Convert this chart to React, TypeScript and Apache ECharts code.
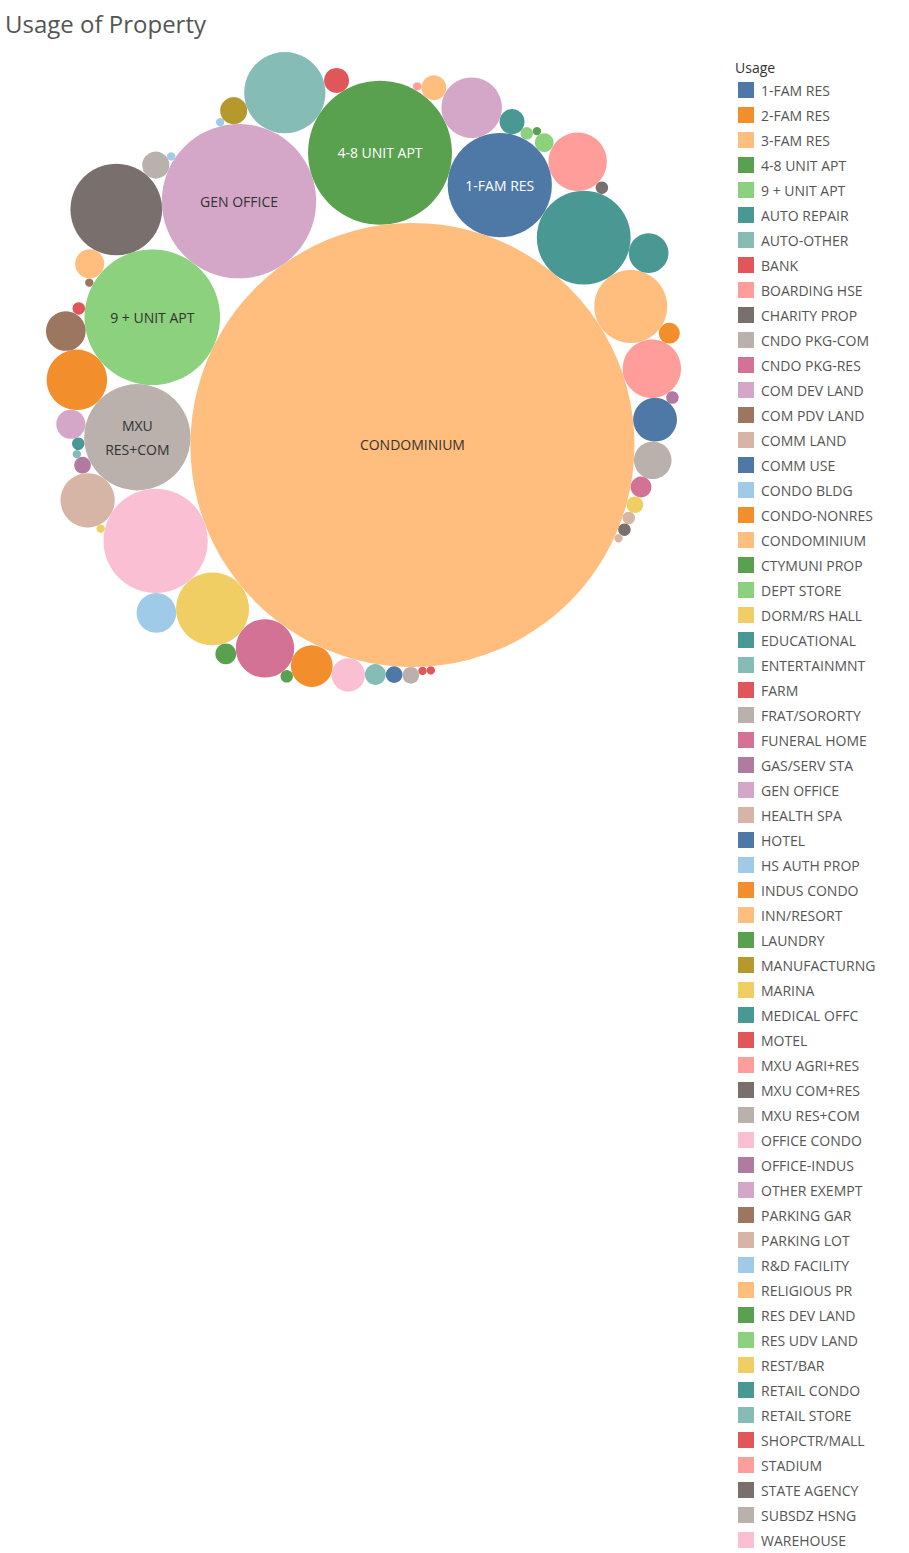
import { useEffect, useRef } from "react";
import * as echarts from "echarts";

// category, approximate value (count), colour
const categories = [
  "1-FAM RES", "2-FAM RES", "3-FAM RES", "4-8 UNIT APT", "9 + UNIT APT", "AUTO REPAIR", "AUTO-OTHER",
  "BANK", "BOARDING HSE", "CHARITY PROP", "CNDO PKG-COM", "CNDO PKG-RES", "COM DEV LAND", "COM PDV LAND",
  "COMM LAND", "COMM USE", "CONDO BLDG", "CONDO-NONRES", "CONDOMINIUM", "CTYMUNI PROP", "DEPT STORE",
  "DORM/RS HALL", "EDUCATIONAL", "ENTERTAINMNT", "FARM", "FRAT/SORORTY", "FUNERAL HOME", "GAS/SERV STA",
  "GEN OFFICE", "HEALTH SPA", "HOTEL", "HS AUTH PROP", "INDUS CONDO", "INN/RESORT", "LAUNDRY",
  "MANUFACTURNG", "MARINA", "MEDICAL OFFC", "MOTEL", "MXU AGRI+RES", "MXU COM+RES", "MXU RES+COM",
  "OFFICE CONDO", "OFFICE-INDUS", "OTHER EXEMPT", "PARKING GAR", "PARKING LOT", "R&D FACILITY",
  "RELIGIOUS PR", "RES DEV LAND", "RES UDV LAND", "REST/BAR", "RETAIL CONDO", "RETAIL STORE",
  "SHOPCTR/MALL", "STADIUM", "STATE AGENCY", "SUBSDZ HSNG", "WAREHOUSE",
];
const values = [
  2500, 841, 1225, 4761, 4225, 361, 100,
  16, 784, 36, 324, 784, 196, 16,
  36, 441, 361, 400, 45369, 16, 36,
  16, 36, 16, 16, 169, 100, 64,
  5476, 16, 64, 16, 100, 196, 100,
  169, 64, 144, 144, 16, 1936, 2601,
  2500, 36, 841, 361, 676, 16,
  144, 36, 81, 1225, 2025, 1521,
  36, 784, 36, 64, 256,
];
const colors = [
  "#4e79a7", "#f28e2b", "#ffbe7d", "#59a14f", "#8cd17d", "#499894", "#86bcb6",
  "#e15759", "#ff9d9a", "#79706e", "#bab0ac", "#d37295", "#d4a6c8", "#9d7660",
  "#d7b5a6", "#4e79a7", "#a0cbe8", "#f28e2b", "#ffbe7d", "#59a14f", "#8cd17d",
  "#f1ce63", "#499894", "#86bcb6", "#e15759", "#bab0ac", "#d37295", "#b07aa1",
  "#d4a6c8", "#d7b5a6", "#4e79a7", "#a0cbe8", "#f28e2b", "#ffbe7d", "#59a14f",
  "#b6992d", "#f1ce63", "#499894", "#e15759", "#ff9d9a", "#79706e", "#bab0ac",
  "#fabfd2", "#b07aa1", "#d4a6c8", "#9d7660", "#d7b5a6", "#a0cbe8",
  "#ffbe7d", "#59a14f", "#8cd17d", "#f1ce63", "#499894", "#86bcb6",
  "#e15759", "#ff9d9a", "#79706e", "#bab0ac", "#fabfd2",
];
const labels: Record<string, { text: string; fill: string }> = {
  "CONDOMINIUM": { text: "CONDOMINIUM", fill: "#333" },
  "GEN OFFICE": { text: "GEN OFFICE", fill: "#333" },
  "4-8 UNIT APT": { text: "4-8 UNIT APT", fill: "#fff" },
  "9 + UNIT APT": { text: "9 + UNIT APT", fill: "#333" },
  "MXU RES+COM": { text: "MXU\nRES+COM", fill: "#333" },
  "1-FAM RES": { text: "1-FAM RES", fill: "#fff" },
};

type C = { i: number; r: number; x: number; y: number };
type N = { _: C; next: N; previous: N };

function place(b: C, a: C, c: C) {
  const dx = b.x - a.x, dy = b.y - a.y, d2 = dx * dx + dy * dy;
  if (d2) {
    const a2 = (a.r + c.r) ** 2, b2 = (b.r + c.r) ** 2;
    if (a2 > b2) {
      const x = (d2 + b2 - a2) / (2 * d2), y = Math.sqrt(Math.max(0, b2 / d2 - x * x));
      c.x = b.x - x * dx - y * dy; c.y = b.y - x * dy + y * dx;
    } else {
      const x = (d2 + a2 - b2) / (2 * d2), y = Math.sqrt(Math.max(0, a2 / d2 - x * x));
      c.x = a.x + x * dx - y * dy; c.y = a.y + x * dy + y * dx;
    }
  } else { c.x = a.x + c.r; c.y = a.y; }
}
function intersects(a: C, b: C) {
  const dr = a.r + b.r - 1e-6, dx = b.x - a.x, dy = b.y - a.y;
  return dr > 0 && dr * dr > dx * dx + dy * dy;
}
function score(node: N) {
  const a = node._, b = node.next._, ab = a.r + b.r;
  const dx = (a.x * b.r + b.x * a.r) / ab, dy = (a.y * b.r + b.y * a.r) / ab;
  return dx * dx + dy * dy;
}
function mk(c: C): N { return { _: c } as N; }
function packSiblings(circles: C[]) {
  const n = circles.length;
  if (!n) return;
  let a0 = circles[0]; a0.x = 0; a0.y = 0; if (n === 1) return;
  const b0 = circles[1]; a0.x = -b0.r; b0.x = a0.r; b0.y = 0; if (n === 2) return;
  const c0 = circles[2]; place(b0, a0, c0);
  let a = mk(a0), b = mk(b0), c = mk(c0);
  a.next = c.previous = b; b.next = a.previous = c; c.next = b.previous = a;
  pack: for (let i = 3; i < n; ++i) {
    place(a._, b._, circles[i]); c = mk(circles[i]);
    let j = b.next, k = a.previous, sj = b._.r, sk = a._.r;
    do {
      if (sj <= sk) {
        if (intersects(j._, c._)) { b = j; a.next = b; b.previous = a; --i; continue pack; }
        sj += j._.r; j = j.next;
      } else {
        if (intersects(k._, c._)) { a = k; a.next = b; b.previous = a; --i; continue pack; }
        sk += k._.r; k = k.previous;
      }
    } while (j !== k.next);
    c.previous = a; c.next = b; a.next = b.previous = b = c;
    let aa = score(a);
    while ((c = c.next) !== b) { const ca = score(c); if (ca < aa) { a = c; aa = ca; } }
    b = a.next;
  }
}

function layout() {
  const circles: C[] = values.map((v, i) => ({ i, r: Math.sqrt(v), x: 0, y: 0 }));
  circles.sort((p, q) => q.r - p.r);
  packSiblings(circles);
  let x0 = Infinity, x1 = -Infinity, y0 = Infinity, y1 = -Infinity;
  for (const c of circles) {
    x0 = Math.min(x0, c.x - c.r); x1 = Math.max(x1, c.x + c.r);
    y0 = Math.min(y0, c.y - c.r); y1 = Math.max(y1, c.y + c.r);
  }
  // rotate so the biggest bubble sits toward the lower right
  const cx = (x0 + x1) / 2, cy = (y0 + y1) / 2;
  const big = circles[0];
  const rot = Math.atan2(147, 102) - Math.atan2(big.y - cy, big.x - cx);
  const cs = Math.cos(rot), sn = Math.sin(rot);
  for (const c of circles) {
    const x = c.x - cx, y = c.y - cy;
    c.x = x * cs - y * sn; c.y = x * sn + y * cs;
  }
  x0 = Infinity; x1 = -Infinity; y0 = Infinity; y1 = -Infinity;
  for (const c of circles) {
    x0 = Math.min(x0, c.x - c.r); x1 = Math.max(x1, c.x + c.r);
    y0 = Math.min(y0, c.y - c.r); y1 = Math.max(y1, c.y + c.r);
  }
  const out: C[] = [];
  for (const c of circles) out[c.i] = c;
  return { out, x0, x1, y0, y1 };
}

export default function App() {
  const ref = useRef<HTMLDivElement | null>(null);

  useEffect(() => {
    document.body.style.margin = "0";
    if (!ref.current) return;
    const chart = echarts.init(ref.current, undefined, { renderer: "svg" });
    const { out, x0, x1, y0, y1 } = layout();
    const w = x1 - x0, h = y1 - y0;
    const s = Math.min(635 / w, 725 / h);
    const gw = w * s, gh = h * s;
    const font = "'Open Sans', 'Noto Sans', sans-serif";

    chart.setOption({
      animation: false,
      textStyle: { fontFamily: font },
      title: {
        text: "Usage of Property", left: 0, top: 6,
        textStyle: { fontSize: 24, fontWeight: "normal", color: "#555", fontFamily: font },
      },
      legend: {
        orient: "vertical", left: 738, top: 82, height: 1470, padding: 0,
        itemWidth: 16, itemHeight: 16, itemGap: 9,
        icon: "rect", data: categories,
        textStyle: { fontSize: 14, color: "#555", fontFamily: font, padding: [0, 0, 0, 2] },
      },
      graphic: [{
        type: "text", left: 735, top: 60,
        style: { text: "Usage", font: `14px ${font}`, fill: "#333" },
      }],
      grid: { left: 46 + (635 - gw) / 2, top: 52, width: gw, height: gh },
      xAxis: { type: "value", min: x0, max: x1, show: false },
      yAxis: { type: "value", min: y0, max: y1, inverse: true, show: false },
      tooltip: { trigger: "item", formatter: (p: any) => `${p.seriesName}: ${values[p.seriesIndex]}` },
      series: categories.map((name, i) => ({
        type: "custom",
        name,
        color: colors[i],
        data: [[out[i].x, out[i].y, out[i].r]],
        renderItem: (_p: any, api: any) => {
          const [px, py] = api.coord([api.value(0), api.value(1)]);
          const pr = api.size([api.value(2), 0])[0];
          const children: any[] = [{
            type: "circle", shape: { cx: px, cy: py, r: pr },
            style: { fill: colors[i] },
          }];
          const lb = labels[name];
          if (lb) {
            children.push({
              type: "text",
              style: {
                text: lb.text, x: px, y: py, align: "center", verticalAlign: "middle",
                fill: lb.fill, font: `14px ${font}`, lineHeight: 24,
              },
            });
          }
          return { type: "group", children };
        },
      })),
    });
    return () => chart.dispose();
  }, []);

  return <div ref={ref} style={{ width: 909, height: 1553 }} />;
}
